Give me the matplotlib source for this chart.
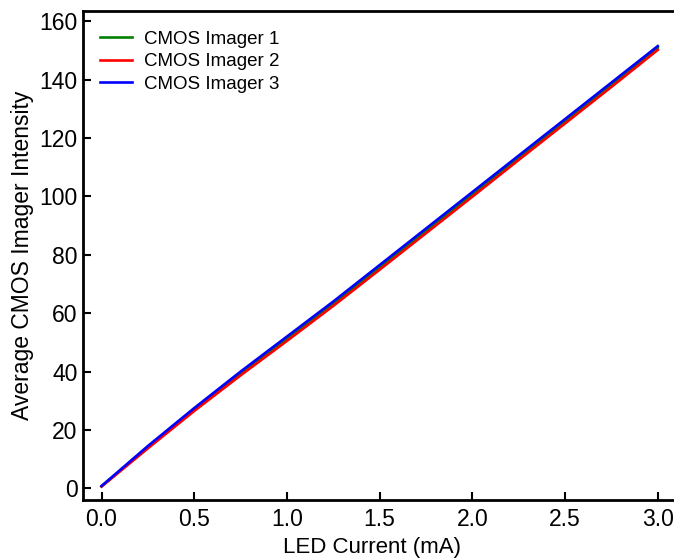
import numpy as np
import matplotlib
matplotlib.use('Agg')
import matplotlib.pyplot as plt

plt.rcParams['font.family'] = ['Liberation Sans', 'DejaVu Sans']

current = [0.0, 0.25, 0.5, 0.75, 1.0, 1.25, 1.5, 1.75, 2.0, 2.25, 2.5, 2.75, 3.0]
imager1 = [0.7, 14.0, 27.0, 39.3, 51.3, 63.3, 75.7, 88.2, 100.7, 113.2, 125.7, 138.2, 150.9]
imager2 = [0.6, 13.7, 26.5, 38.7, 50.5, 62.5, 74.9, 87.4, 99.9, 112.5, 125.0, 137.5, 150.2]
imager3 = [0.8, 14.5, 27.5, 40.0, 52.0, 64.0, 76.5, 89.0, 101.5, 114.0, 126.5, 139.0, 151.5]

fig = plt.figure(figsize=(6.74, 5.58), dpi=100)
ax = fig.add_axes([83/674, 58/558, 620/674, 489.5/558])

ax.plot(current, imager1, color='green', lw=1.9, label='CMOS Imager 1')
ax.plot(current, imager2, color='red', lw=1.9, label='CMOS Imager 2')
ax.plot(current, imager3, color='blue', lw=1.9, label='CMOS Imager 3')

# 185.4 px per mA, left edge at -0.1
ax.set_xlim(-0.1, -0.1 + 620/185.4)
ax.set_ylim(-4, 163.7)
ax.set_xticks(np.arange(0, 3.01, 0.5))
ax.set_yticks(np.arange(0, 161, 20))
ax.xaxis.set_major_formatter(matplotlib.ticker.FormatStrFormatter('%.1f'))

ax.tick_params(direction='in', length=6, width=1.5, labelsize=16.5)
ax.tick_params(axis='y', pad=4)
ax.tick_params(axis='x', pad=6)
for s in ax.spines.values():
    s.set_linewidth(2)
# the right edge of the frame is cut off in the original image
ax.spines['right'].set_visible(False)

ax.set_xlabel('LED Current (mA)', fontsize=16, labelpad=4, x=0.466)
ax.set_ylabel('Average CMOS Imager Intensity', fontsize=16.5, labelpad=4)

ax.legend(loc='upper left', bbox_to_anchor=(0.016, 0.974), borderaxespad=0,
          frameon=False, fontsize=13.5, handlelength=1.7,
          handletextpad=0.6, labelspacing=0.28)

fig.savefig('out.png', dpi=100)
